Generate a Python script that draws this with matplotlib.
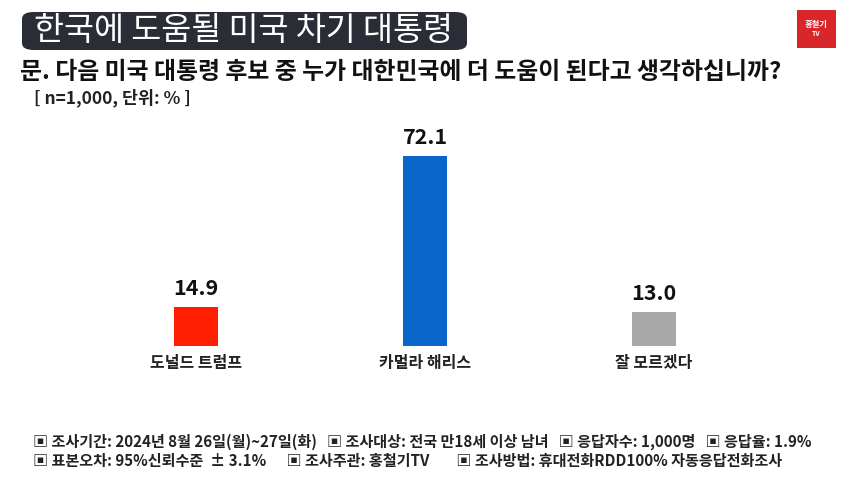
import matplotlib.pyplot as plt
from matplotlib.patches import FancyBboxPatch, Rectangle

plt.rcParams['font.family'] = ['Noto Sans CJK KR', 'DejaVu Sans']

# data
categories = ['도널드 트럼프', '카멀라 해리스', '잘 모르겠다']
values = [14.9, 72.1, 13.0]
bar_colors = ['#ff1e00', '#0b66c9', '#a8a8a8']

title = '한국에 도움될 미국 차기 대통령'
question = '문. 다음 미국 대통령 후보 중 누가 대한민국에 더 도움이 된다고 생각하십니까?'
sample_note = '[ n=1,000, 단위: % ]'
footer_lines = [
    '▣ 조사기간: 2024년 8월 26일(월)~27일(화)   ▣ 조사대상: 전국 만18세 이상 남녀   ▣ 응답자수: 1,000명   ▣ 응답율: 1.9%',
    '▣ 표본오차: 95%신뢰수준  ± 3.1%      ▣ 조사주관: 홍철기TV        ▣ 조사방법: 휴대전화RDD100% 자동응답전화조사',
]

W, H = 850, 478
fig = plt.figure(figsize=(W / 100, H / 100), dpi=100)
fig.patch.set_facecolor('white')


def fx(px):
    return px / W


def fy(py):
    return 1 - py / H


# title box
box = FancyBboxPatch((fx(22), fy(50)), fx(445), 38 / H,
                     boxstyle='round,pad=0,rounding_size=0.014',
                     transform=fig.transFigure, facecolor='#2b2d36',
                     edgecolor='none')
fig.patches.append(box)
fig.text(fx(243), fy(31), title, color='white', fontsize=23.5,
         fontweight='medium', ha='center', va='center')

# logo
fig.patches.append(Rectangle((fx(797), fy(48)), fx(39), 38 / H,
                             transform=fig.transFigure,
                             facecolor='#d8262b', edgecolor='none'))
fig.text(fx(816.5), fy(25), '홍철기', color='white', fontsize=6,
         fontweight='bold', ha='center', va='center')
fig.text(fx(816.5), fy(34), 'TV', color='white', fontsize=5,
         fontweight='bold', ha='center', va='center')

fig.text(fx(20), fy(72), question, fontsize=17.2, fontweight='bold',
         ha='left', va='center', color='#111111')
fig.text(fx(34), fy(98), sample_note, fontsize=12.5, fontweight='bold',
         ha='left', va='center', color='#222222')

# bars
base_px, top_px = 346, 135.2
ax = fig.add_axes([fx(81.5), fy(base_px), fx(687), (base_px - top_px) / H])
x = range(len(values))
ax.bar(x, values, width=0.188, color=bar_colors)
ax.set_xlim(-0.5, 2.5)
ax.set_ylim(0, 80)
ax.axis('off')
for xi, v in zip(x, values):
    ax.annotate(f'{v:.1f}', (xi, v), xytext=(0, 8), textcoords='offset pixels',
                ha='center', va='bottom', fontsize=15.5, fontweight='bold',
                color='#111111')
    ax.annotate(categories[xi], (xi, 0), xytext=(0, -17),
                textcoords='offset pixels', ha='center', va='center',
                fontsize=11.5, fontweight='bold', color='#222222')

# footer
fig.text(fx(33), fy(442), footer_lines[0], fontsize=10.9, fontweight='bold',
         ha='left', va='center', color='#222222')
fig.text(fx(33), fy(461), footer_lines[1], fontsize=10.9, fontweight='bold',
         ha='left', va='center', color='#222222')

fig.savefig('out.png', dpi=100)
